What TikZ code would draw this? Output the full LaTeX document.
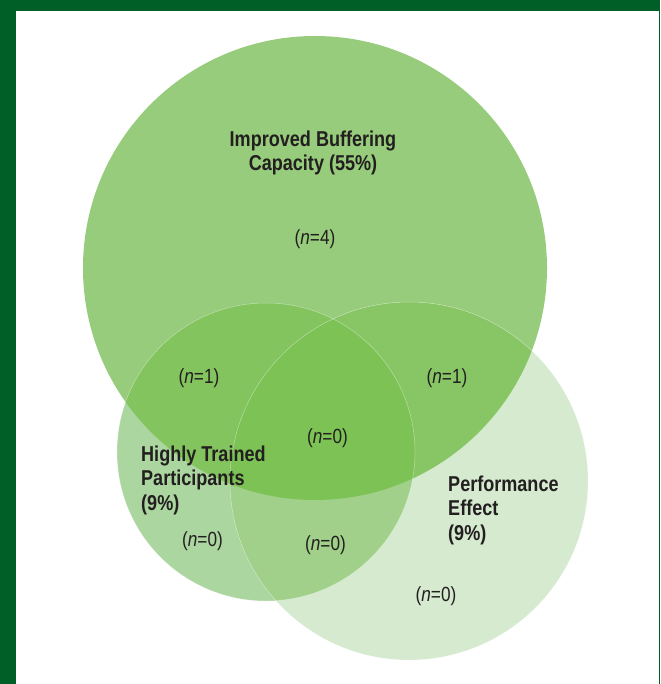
\documentclass[tikz,border=0pt]{standalone}
\usepackage{fontspec}
\setmainfont{Liberation Sans}[FakeStretch=0.84]
\definecolor{frame}{RGB}{0,94,39}
\definecolor{txt}{RGB}{35,31,32}
\definecolor{cA}{RGB}{150,204,123}
\definecolor{cB}{RGB}{172,214,160}
\definecolor{cC}{RGB}{213,234,207}
\definecolor{cAB}{RGB}{132,196,95}
\definecolor{cAC}{RGB}{136,198,101}
\definecolor{cBC}{RGB}{160,208,137}
\definecolor{cABC}{RGB}{125,194,85}
\tikzset{
  title/.style={font=\fontsize{21.5}{24.5}\selectfont\bfseries, text=txt, inner sep=0pt},
  nlab/.style={font=\fontsize{20.5}{22}\selectfont, text=txt, inner sep=0pt, anchor=base},
  seam/.style={draw=white, line width=0.5pt, draw opacity=0.4}
}
\begin{document}
\begin{tikzpicture}[x=1pt,y=-1pt]
\useasboundingbox (0,0) rectangle (660,684);
\fill[white] (0,0) rectangle (660,684);
\fill[frame] (0,0) rectangle (16,684);
\fill[frame] (0,0) rectangle (660,11);
\fill[frame] (658.5,0) rectangle (660,684);
% single circles
\fill[cA] (315,268) circle[radius=232pt];
\fill[cB] (266,452) circle[radius=149pt];
\fill[cC] (409,481) circle[radius=179pt];
% pairwise overlaps
\begin{scope}
  \clip (315,268) circle[radius=232pt];
  \fill[cAB] (266,452) circle[radius=149pt];
\end{scope}
\begin{scope}
  \clip (315,268) circle[radius=232pt];
  \fill[cAC] (409,481) circle[radius=179pt];
\end{scope}
\begin{scope}
  \clip (266,452) circle[radius=149pt];
  \fill[cBC] (409,481) circle[radius=179pt];
\end{scope}
\begin{scope}
  \clip (315,268) circle[radius=232pt];
  \clip (266,452) circle[radius=149pt];
  \fill[cABC] (409,481) circle[radius=179pt];
\end{scope}
% faint seams
\draw[seam] (266,452) circle[radius=149pt];
\draw[seam] (409,481) circle[radius=179pt];
% titles (anchor base = baseline of last line)
\node[title, align=center, anchor=base] (ibc) at (313,171) {Improved Buffering\\Capacity (55\%)};
\node[title, align=left, anchor=base west] (htp) at (141,510) {Highly Trained\\Participants\\(9\%)};
\node[title, align=left, anchor=base west] (pe) at (448,540) {Performance\\Effect\\(9\%)};
% counts
\node[nlab] (n4) at (315,245) {(\textit{n}=4)};
\node[nlab] (n1a) at (199,383) {(\textit{n}=1)};
\node[nlab] (n1b) at (447,383) {(\textit{n}=1)};
\node[nlab] (n0c) at (327.5,443) {(\textit{n}=0)};
\node[nlab] (n0l) at (202.5,546) {(\textit{n}=0)};
\node[nlab] (n0m) at (325.5,550) {(\textit{n}=0)};
\node[nlab] (n0r) at (436,601) {(\textit{n}=0)};
\end{tikzpicture}
\end{document}
